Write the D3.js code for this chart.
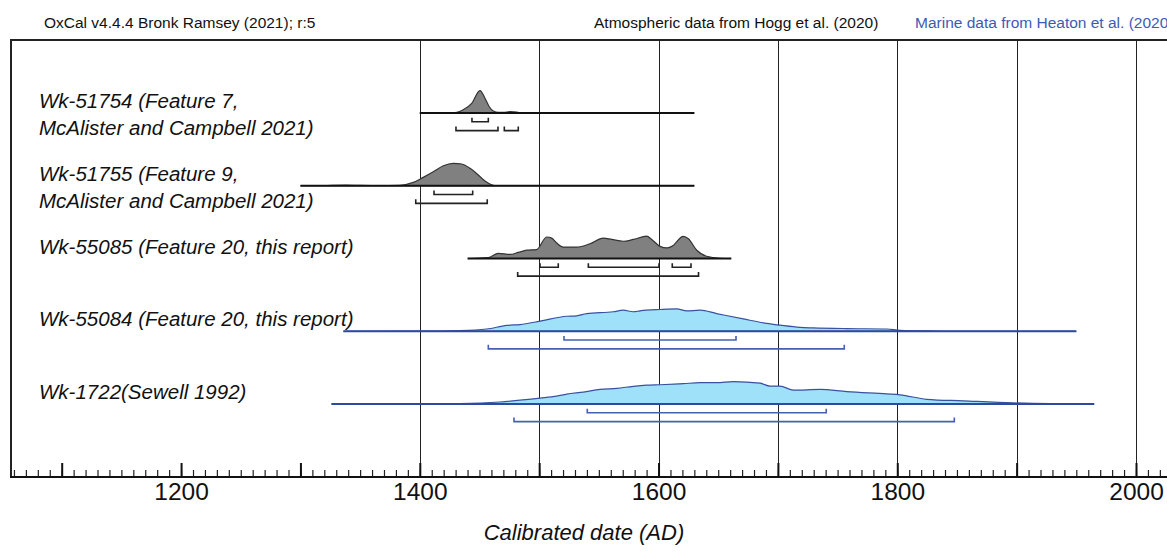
<!DOCTYPE html>
<html>
<head>
<meta charset="utf-8">
<script src="https://cdn.jsdelivr.net/npm/d3@7"></script>
<style>
  body { margin: 0; background: #fff; }
  svg { display: block; font-family: "Liberation Sans", Arial, sans-serif; }
</style>
</head>
<body>
<script>
// sample names, one entry per row, top to bottom
const labels = [
  ["Wk-51754 (Feature 7,", "McAlister and Campbell 2021)"],
  ["Wk-51755 (Feature 9,", "McAlister and Campbell 2021)"],
  ["Wk-55085 (Feature 20, this report)"],
  ["Wk-55084 (Feature 20, this report)"],
  ["Wk-1722(Sewell 1992)"]
];
const curveType = ["atmos", "atmos", "atmos", "marine", "marine"];

// extent of the drawn baseline for each row (cal AD)
const spans = [[1400, 1630], [1300, 1630], [1440, 1661], [1336, 1950], [1326, 1965]];

// relative probability, [year, p] with peak = 1
const dens51754 = [[1400,0],[1425,0],[1431,0.03],[1436,0.13],[1443.5,0.43],[1450.4,1],[1454.6,0.66],[1458.2,0.28],[1461.6,0.09],[1465.8,0.03],[1470,0.03],[1475.6,0.06],[1481.2,0.045],[1485.4,0],[1630,0]];
const dens51755 = [[1300,0],[1318,0],[1326,0.02],[1338,0.03],[1350,0.015],[1365,0.005],[1383,0.02],[1394.6,0.15],[1402.9,0.375],[1411.3,0.625],[1419.7,0.89],[1428.1,1],[1435.1,0.97],[1442.1,0.78],[1449,0.48],[1454.6,0.21],[1460.2,0.045],[1464.4,0],[1630,0]];
const dens55085 = [[1440.6,0],[1457.4,0.04],[1465.8,0.23],[1475.6,0.18],[1482.5,0.27],[1489.6,0.37],[1497.9,0.40],[1506.3,0.96],[1510.5,0.91],[1514.7,0.69],[1520.2,0.51],[1531.4,0.51],[1542.6,0.66],[1553.7,0.91],[1560.8,0.85],[1570.5,0.77],[1578.9,0.85],[1590.1,1],[1594.3,0.85],[1601.3,0.54],[1606.9,0.47],[1611.1,0.54],[1620.8,0.99],[1625,0.88],[1632,0.37],[1640.3,0.10],[1651.5,0.01],[1660.7,0]];
const dens55084 = [[1336,0],[1400,0.005],[1433.6,0.03],[1456,0.10],[1472.8,0.26],[1483.9,0.30],[1500.7,0.45],[1523.1,0.67],[1531.4,0.69],[1539.8,0.79],[1562.1,0.87],[1570.5,0.94],[1578.9,0.87],[1584.5,0.91],[1601.3,0.97],[1615.2,1],[1623.6,0.91],[1634.8,0.94],[1648.7,0.79],[1671,0.55],[1690.6,0.35],[1701.8,0.27],[1718.6,0.17],[1729.6,0.15],[1757.6,0.12],[1791.2,0.10],[1802.3,0.045],[1827.5,0.015],[1850,0],[1950,0]];
const dens1722 = [[1326,0],[1400,0.005],[1433.6,0.02],[1467.1,0.09],[1500.7,0.26],[1514.7,0.35],[1523.1,0.44],[1537,0.53],[1551,0.65],[1565,0.70],[1578.9,0.79],[1590.1,0.84],[1601.3,0.86],[1620.8,0.91],[1634.8,0.95],[1648.7,0.95],[1662.6,1],[1685,0.93],[1693.4,0.80],[1701.8,0.80],[1713,0.62],[1735.4,0.65],[1757.8,0.55],[1791.2,0.45],[1802.3,0.41],[1824.6,0.21],[1855.3,0.14],[1897.2,0.05],[1953.1,0],[1965,0]];
const densities = [dens51754, dens51755, dens55085, dens55084, dens1722];

// 68.3% and 95.4% ranges
const sigma1 = [
  [[1443.7, 1457.4]],
  [[1411.9, 1444.3]],
  [[1500.7, 1516], [1541.2, 1600.4], [1611.5, 1627.2]],
  [[1520.8, 1664.9]],
  [[1540.3, 1740.5]]
];
const sigma2 = [
  [[1430.3, 1465.5], [1470.8, 1482.5]],
  [[1396.6, 1456.5]],
  [[1482, 1633.5]],
  [[1457.4, 1755.6]],
  [[1478.9, 1847.8]]
];

const gridYears = [1400, 1500, 1600, 1700, 1800, 1900, 2000];
const majorTicks = d3.range(1100, 2001, 100);
const minorTicks = d3.range(1060, 2021, 10);
const labelTicks = [1200, 1400, 1600, 1800, 2000];

const width = 1167, height = 556;
const frameLeft = 11, frameTop = 40, axisY = 477;

const x = d3.scaleLinear().domain([1100, 2000]).range([61.7, 1136]);
const row = d3.scalePoint().domain(d3.range(labels.length)).range([113, 404]);
const h = d3.scaleLinear().domain([0, 1]).range([0, 22.4]);

const colors = {
  atmos: { fill: "#808080", stroke: "#333", base: "#111", bracket: "#222" },
  marine: { fill: "#9fe1f8", stroke: "#3a50a0", base: "#2e4a9e", bracket: "#4660b0" }
};

const svg = d3.select("body").append("svg")
  .attr("width", width)
  .attr("height", height);

// header
svg.append("text").attr("x", 44).attr("y", 28).attr("font-size", 15.5).attr("fill", "#111")
  .text("OxCal v4.4.4 Bronk Ramsey (2021); r:5");
svg.append("text").attr("x", 594).attr("y", 28).attr("font-size", 15.5).attr("fill", "#111")
  .text("Atmospheric data from Hogg et al. (2020)");
svg.append("text").attr("x", 915).attr("y", 28).attr("font-size", 15.5).attr("fill", "#3b5bb5")
  .text("Marine data from Heaton et al. (2020)");

// grid lines
svg.append("g").selectAll("line")
  .data(gridYears)
  .join("line")
  .attr("x1", d => Math.round(x(d)) + 0.5)
  .attr("x2", d => Math.round(x(d)) + 0.5)
  .attr("y1", frameTop)
  .attr("y2", axisY)
  .attr("stroke", "#222")
  .attr("stroke-width", 1);

// frame
svg.append("line").attr("x1", frameLeft).attr("x2", width).attr("y1", frameTop).attr("y2", frameTop)
  .attr("stroke", "#222").attr("stroke-width", 2);
svg.append("line").attr("x1", frameLeft).attr("x2", frameLeft).attr("y1", frameTop - 1).attr("y2", axisY)
  .attr("stroke", "#222").attr("stroke-width", 2);

// distributions
const area = d3.area()
  .x(d => x(d[0]))
  .y0(0)
  .y1(d => -h(d[1]))
  .curve(d3.curveMonotoneX);

const rows = svg.append("g").selectAll("g")
  .data(labels)
  .join("g")
  .attr("transform", (d, i) => `translate(0,${row(i)})`);

rows.each(function(lab, i) {
  const g = d3.select(this);
  const c = colors[curveType[i]];

  g.append("path")
    .datum(densities[i])
    .attr("d", area)
    .attr("fill", c.fill)
    .attr("stroke", c.stroke)
    .attr("stroke-width", 1.2);

  g.append("line")
    .attr("x1", x(spans[i][0]))
    .attr("x2", x(spans[i][1]))
    .attr("y1", 0).attr("y2", 0)
    .attr("stroke", c.base)
    .attr("stroke-width", 2);

  const bracket = (ranges, dy) => {
    g.append("g").selectAll("path")
      .data(ranges)
      .join("path")
      .attr("d", r => `M${x(r[0])},${dy - 4}V${dy}H${x(r[1])}V${dy - 4}`)
      .attr("fill", "none")
      .attr("stroke", c.bracket)
      .attr("stroke-width", 1.6);
  };
  bracket(sigma1[i], 8.7);
  bracket(sigma2[i], 17.6);

  const t = g.append("text")
    .attr("x", 39)
    .attr("y", -5)
    .attr("font-size", 20.5)
    .attr("font-style", "italic")
    .attr("fill", "#111");
  lab.forEach((line, k) => {
    t.append("tspan").attr("x", 39).attr("dy", k === 0 ? 0 : 27).text(line);
  });
});

// axis
const axisG = svg.append("g").attr("transform", `translate(0,${axisY})`);
axisG.append("g")
  .call(d3.axisBottom(x).tickValues(minorTicks).tickSizeInner(-7).tickSizeOuter(0).tickFormat(""))
  .call(g => g.select(".domain").remove())
  .call(g => g.selectAll(".tick line").attr("stroke", "#222").attr("stroke-width", 1.2));
axisG.append("g")
  .call(d3.axisBottom(x).tickValues(majorTicks).tickSizeInner(-14).tickSizeOuter(0).tickPadding(6)
    .tickFormat(d => labelTicks.includes(d) ? d : ""))
  .call(g => g.select(".domain").remove())
  .call(g => g.selectAll(".tick line").attr("stroke", "#111").attr("stroke-width", 2))
  .call(g => g.selectAll(".tick text").attr("font-size", 24.5).attr("fill", "#111")
    .attr("font-family", "Liberation Sans, Arial, sans-serif"));
axisG.append("line")
  .attr("x1", frameLeft - 1).attr("x2", width)
  .attr("y1", 0).attr("y2", 0)
  .attr("stroke", "#111").attr("stroke-width", 2);

svg.append("text")
  .attr("x", 584)
  .attr("y", 540)
  .attr("text-anchor", "middle")
  .attr("font-size", 22)
  .attr("font-style", "italic")
  .attr("fill", "#111")
  .text("Calibrated date (AD)");
</script>
</body>
</html>
